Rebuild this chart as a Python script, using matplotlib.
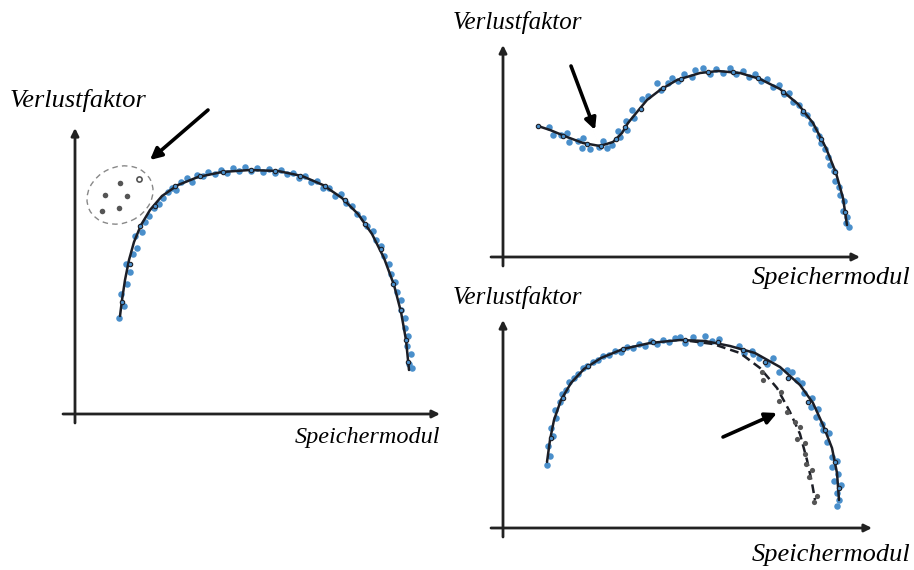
import numpy as np
import matplotlib.pyplot as plt
from matplotlib.patches import Ellipse

plt.rcParams['font.family'] = ['Liberation Serif', 'DejaVu Serif']

BLUE = '#4a8fcb'
DARK = '#1c1e26'
GREY = '#555555'

# --- Bild 1: Ausreisser (links) ---
p1_curve_x = [45, 47, 50, 54, 59, 66, 75, 87, 103, 123, 147, 175, 203, 227, 248, 267, 283, 297, 309, 319, 326, 331, 334]
p1_curve_y = [98, 114, 134, 154, 172, 189, 204, 218, 229, 237, 242, 244, 243, 238, 229, 216, 200, 180, 156, 129, 102, 74, 44]
p1_blue_x = [44, 49, 46, 52, 55, 51, 58, 62, 60, 67, 70, 74, 79, 84, 88, 93, 97, 101, 106, 112, 117, 122, 128, 133,
             140, 146, 152, 158, 164, 170, 176, 182, 188, 194, 200, 206, 212, 218, 224, 230, 236, 242, 248, 254,
             260, 266, 271, 277, 282, 288, 292, 298, 301, 306, 309, 314, 316, 320, 322, 326, 326, 330, 330, 333,
             332, 336, 334, 337]
p1_blue_y = [96, 108, 120, 130, 142, 150, 160, 166, 178, 182, 192, 198, 206, 210, 216, 222, 226, 224, 232, 236, 232,
             239, 238, 242, 240, 244, 241, 246, 243, 247, 243, 246, 242, 245, 241, 244, 240, 241, 236, 238, 232,
             233, 226, 226, 218, 220, 211, 208, 200, 196, 188, 183, 174, 168, 158, 150, 140, 132, 122, 114, 104,
             96, 86, 78, 68, 60, 50, 46]
p1_dark_x = [47, 55, 65, 80, 100, 125, 148, 176, 200, 225, 250, 270, 290, 306, 318, 326, 331, 333]
p1_dark_y = [112, 150, 188, 208, 228, 238, 242, 244, 243, 238, 228, 214, 190, 165, 130, 104, 74, 52]
p1_out_x = [45, 30, 52, 27, 44]
p1_out_y = [231, 219, 218, 203, 206]
p1_out_open = (64, 235)

# --- Bild 2: lokales Minimum (oben rechts) ---
p2_curve_x = [35, 47, 64, 80, 97, 110, 119, 125, 134, 144, 157, 174, 197, 215, 237, 257, 277, 295, 310, 323, 333, 340, 344]
p2_curve_y = [131, 127, 120, 114, 111, 115, 124, 134, 145, 157, 167, 177, 184, 186, 184, 178, 168, 153, 134, 109, 84, 59, 32]
p2_blue_x = [46, 50, 58, 64, 66, 75, 80, 79, 87, 96, 100, 104, 109, 115, 117, 124, 123, 129, 131, 139, 145, 154,
             158, 165, 169, 175, 181, 189, 192, 200, 207, 213, 220, 227, 233, 240, 246, 252, 258, 264, 270, 276,
             281, 286, 290, 296, 300, 304, 308, 312, 316, 318, 322, 325, 327, 331, 332, 336, 337, 341, 340, 344,
             343, 346]
p2_blue_y = [130, 122, 122, 124, 115, 116, 119, 109, 108, 110, 116, 109, 112, 126, 120, 127, 136, 147, 139, 158,
             161, 174, 167, 174, 179, 176, 183, 180, 187, 189, 183, 188, 184, 189, 183, 186, 180, 183, 176, 178,
             170, 172, 163, 164, 155, 152, 144, 142, 134, 128, 121, 114, 108, 100, 92, 86, 76, 70, 62, 56, 46, 40,
             34, 30]
p2_dark_x = [35, 60, 84, 98, 113, 122, 138, 160, 178, 205, 230, 255, 280, 300, 318, 332, 342]
p2_dark_y = [131, 121, 113, 111, 118, 130, 148, 169, 178, 185, 185, 179, 165, 146, 118, 85, 45]

# --- Bild 3: verschobene Kurve (unten rechts) ---
p3_curve_x = [44, 47, 51, 58, 68, 81, 98, 120, 147, 177, 202, 227, 252, 277, 297, 310, 320, 329, 334, 336]
p3_curve_y = [66, 88, 108, 128, 145, 159, 170, 179, 185, 188, 187, 182, 175, 161, 143, 125, 103, 80, 55, 28]
p3_shift_x = [187, 210, 237, 257, 274, 287, 297, 304, 309, 312]
p3_shift_y = [187, 184, 175, 160, 140, 116, 94, 68, 45, 28]
p3_blue_x = [44, 47, 45, 50, 48, 53, 52, 57, 59, 63, 66, 71, 75, 80, 84, 90, 95, 100, 106, 112, 118, 124, 130, 136,
             142, 148, 154, 160, 166, 172, 177, 182, 190, 197, 202, 209, 216, 236, 241, 249, 250, 256, 264, 270,
             276, 284, 289, 294, 299, 301, 309, 308, 315, 313, 319, 320, 324, 326, 329, 334, 329, 335, 331, 338,
             334, 336, 334]
p3_blue_y = [63, 72, 82, 92, 100, 110, 118, 126, 134, 138, 146, 150, 154, 160, 162, 166, 168, 172, 173, 177, 176,
             181, 180, 184, 182, 187, 184, 188, 186, 190, 191, 185, 191, 185, 192, 187, 189, 182, 175, 177, 174,
             170, 164, 170, 156, 158, 156, 148, 145, 135, 130, 121, 119, 111, 104, 98, 86, 95, 71, 67, 61, 54, 47,
             43, 35, 28, 22]
p3_dark_x = [48, 60, 85, 120, 150, 182, 215, 240, 262, 285, 305, 322, 332, 336]
p3_dark_y = [90, 130, 162, 179, 186, 188, 186, 178, 166, 150, 126, 98, 66, 40]
p3_shdot_x = [259, 260, 278, 276, 284, 292, 297, 294, 302, 302, 303, 309, 306, 314, 311]
p3_shdot_y = [156, 148, 136, 127, 116, 106, 101, 89, 85, 74, 64, 58, 51, 32, 26]

W, H = 914, 570
fig = plt.figure(figsize=(W / 100, H / 100), dpi=100)


def panel(left, bottom, xmax, ymax, ylab_xy, xlab_xy, ysize, xsize):
    ax = fig.add_axes([left / W, bottom / H, xmax / W, ymax / H])
    ax.set_xlim(0, xmax)
    ax.set_ylim(0, ymax)
    ax.axis('off')
    arrow = dict(arrowstyle='-|>', lw=2.0, color='#222222', mutation_scale=11, shrinkA=0, shrinkB=0)
    ax.annotate('', xy=(xmax, 0), xytext=(-12, 0), arrowprops=arrow, annotation_clip=False)
    ax.annotate('', xy=(0, ymax), xytext=(0, -9), arrowprops=arrow, annotation_clip=False)
    ax.text(*ylab_xy, 'Verlustfaktor', style='italic', fontsize=ysize, ha='left', va='center', clip_on=False)
    ax.text(*xlab_xy, 'Speichermodul', style='italic', fontsize=xsize, ha='right', va='center', clip_on=False)
    return ax


def pointer(ax, start, end):
    ax.annotate('', xy=end, xytext=start, annotation_clip=False,
                arrowprops=dict(arrowstyle='-|>', lw=2.6, color='black', mutation_scale=17,
                                shrinkA=0, shrinkB=0))


def draw_fit(ax, cx, cy, bx, by, dx, dy):
    ax.scatter(bx, by, s=22, color=BLUE, lw=0, zorder=2, clip_on=False)
    ax.plot(cx, cy, color=DARK, lw=1.8, zorder=3, solid_capstyle='round', clip_on=False)
    ax.scatter(dx, dy, s=10, facecolor=BLUE, edgecolor=DARK, lw=0.8, zorder=4, clip_on=False)


# Bild 1
ax1 = panel(75, 156, 365, 286, (-65, 314), (365, -23), 19, 17.5)
draw_fit(ax1, p1_curve_x, p1_curve_y, p1_blue_x, p1_blue_y, p1_dark_x, p1_dark_y)
ax1.scatter(p1_out_x, p1_out_y, s=16, color=GREY, lw=0, zorder=4)
ax1.scatter(*p1_out_open, s=14, facecolor='white', edgecolor=GREY, lw=1.2, zorder=4)
ax1.add_patch(Ellipse((45, 219), 68, 56, angle=25, fill=False, ls=(0, (4, 3)), lw=1.0, ec='#888888'))
pointer(ax1, (133, 304), (75, 254))

# Bild 2
ax2 = panel(503, 313, 357, 212, (-50, 235), (407, -21), 18, 19)
draw_fit(ax2, p2_curve_x, p2_curve_y, p2_blue_x, p2_blue_y, p2_dark_x, p2_dark_y)
pointer(ax2, (68, 191), (92, 127))

# Bild 3
ax3 = panel(503, 42, 369, 208, (-50, 230), (407, -27), 18, 19)
draw_fit(ax3, p3_curve_x, p3_curve_y, p3_blue_x, p3_blue_y, p3_dark_x, p3_dark_y)
ax3.plot(p3_shift_x, p3_shift_y, color=DARK, lw=1.8, ls=(0, (3.5, 2)), zorder=3)
ax3.scatter(p3_shdot_x, p3_shdot_y, s=14, color=GREY, lw=0, zorder=4)
pointer(ax3, (220, 91), (274, 115))

fig.savefig('out.png', dpi=100, facecolor='white')
